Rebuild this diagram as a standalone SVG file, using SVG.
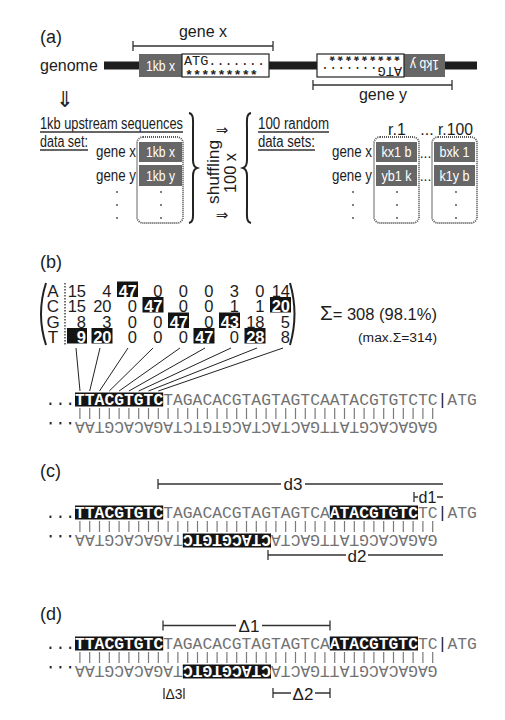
<svg xmlns="http://www.w3.org/2000/svg" xmlns:xlink="http://www.w3.org/1999/xlink" width="505" height="720" viewBox="0 0 505 720">
<style>
.s{font-family:"Liberation Sans",Arial,sans-serif;fill:#1c1c1c}
.ar{font-family:"DejaVu Sans",sans-serif;fill:#222}
.m{font-family:"Liberation Mono","Courier New",monospace;font-size:16.33px;fill:#727272}
.m2{font-family:"Liberation Mono","Courier New",monospace;font-size:13.5px;fill:#222}
.ast{font-family:"Liberation Mono","Courier New",monospace;font-size:13.5px;fill:#222;font-weight:bold}
.hl{fill:#fff;font-weight:bold}
.dk{fill:#222}
.bx{fill:#141414}
.gb{fill:#676767}
.wt{fill:#fff;font-size:14px;font-family:"Liberation Sans",Arial,sans-serif}
.ln{stroke:#333;stroke-width:1.3;fill:none}
.br{stroke:#222;stroke-width:2;fill:none}
.dot{fill:none;stroke:#555;stroke-width:1.8;stroke-dasharray:1 1}
.bars{stroke:#7a7a7a;stroke-width:1.2;fill:none}
.num{font-family:"Liberation Sans",Arial,sans-serif;font-size:16.5px;fill:#1c1c1c;text-anchor:end}
.numh{font-family:"Liberation Sans",Arial,sans-serif;font-size:16.5px;fill:#fff;font-weight:bold;text-anchor:end}
</style>
<defs>
<path id="bars" class="bars" d="M79.9 0v11m9.8-11v11m9.8-11v11m9.8-11v11m9.8-11v11m9.8-11v11m9.8-11v11m9.8-11v11m9.8-11v11m9.8-11v11m9.8-11v11m9.8-11v11m9.8-11v11m9.8-11v11m9.8-11v11m9.8-11v11m9.8-11v11m9.8-11v11m9.8-11v11m9.8-11v11m9.8-11v11m9.8-11v11m9.8-11v11m9.8-11v11m9.8-11v11m9.8-11v11m9.8-11v11m9.8-11v11m9.8-11v11m9.8-11v11m9.8-11v11m9.8-11v11m9.8-11v11m9.8-11v11m9.8-11v11m9.8-11v11m9.8-11v11"/>
</defs>

<!-- Panel (a) -->
<g id="panel-a-label"><text class="s" x="40" y="43" font-size="18">(a)</text></g>
<g id="genome">
<text class="s" x="40" y="71" font-size="16">genome</text>
<rect x="104" y="61.5" width="373" height="8" fill="#1e1e1e"/>
</g>
<g id="gene-x">
<text class="s" x="203" y="37" font-size="16" text-anchor="middle">gene x</text>
<path class="ln" d="M133 46H273M133 41V51M273 41V51"/>
<rect class="gb" x="139" y="54" width="43" height="23"/>
<text class="wt" x="160.5" y="71" text-anchor="middle" textLength="29" lengthAdjust="spacingAndGlyphs">1kb x</text>
<rect x="182" y="54" width="87" height="23" fill="#fff" stroke="#222" stroke-width="1.2"/>
<text class="m2" x="184" y="64.5">ATG.......</text>
<text class="ast" x="185" y="79">*********</text>
</g>
<g id="gene-y">
<g transform="rotate(180 381 65.5)">
<rect class="gb" x="317" y="54" width="41" height="23"/>
<text class="wt" x="337.5" y="71" text-anchor="middle" textLength="29" lengthAdjust="spacingAndGlyphs">1kb y</text>
<rect x="358" y="54" width="87" height="23" fill="#fff" stroke="#222" stroke-width="1.2"/>
<text class="m2" x="360" y="64.5">ATG.......</text>
<text class="ast" x="361" y="79">*********</text>
</g>
<path class="ln" d="M313 85H452M313 80V90M452 80V90"/>
<text class="s" x="383" y="100" font-size="16" text-anchor="middle">gene y</text>
</g>
<g id="arrow-down"><text class="ar" x="65" y="107" font-size="22" text-anchor="middle">⇓</text></g>

<g id="upstream-set">
<text class="s" x="40" y="129" font-size="16" textLength="143" lengthAdjust="spacingAndGlyphs">1kb upstream sequences</text>
<path class="ln" d="M40 132H183" stroke-width="1"/>
<text class="s" x="40" y="147" font-size="16" textLength="48" lengthAdjust="spacingAndGlyphs">data set:</text>
<path class="ln" d="M40 150H88" stroke-width="1"/>
<text class="s" x="96" y="157" font-size="16" textLength="40" lengthAdjust="spacingAndGlyphs">gene x</text>
<text class="s" x="96" y="181" font-size="16" textLength="40" lengthAdjust="spacingAndGlyphs">gene y</text>
<rect class="dot" x="137" y="137" width="46" height="86" rx="6"/>
<rect class="gb" x="139" y="142" width="43" height="20"/>
<text class="wt" x="160.5" y="157" text-anchor="middle" textLength="29" lengthAdjust="spacingAndGlyphs">1kb x</text>
<rect class="gb" x="139" y="165" width="43" height="21"/>
<text class="wt" x="160.5" y="181" text-anchor="middle" textLength="29" lengthAdjust="spacingAndGlyphs">1kb y</text>
<g fill="#444"><circle cx="117" cy="192" r="0.9"/><circle cx="117" cy="205" r="0.9"/><circle cx="117" cy="218" r="0.9"/><circle cx="161" cy="192" r="0.9"/><circle cx="161" cy="205" r="0.9"/><circle cx="161" cy="218" r="0.9"/></g>
</g>

<g id="shuffling">
<path class="br" d="M189 113C194 114 193 120 193 130L193 160C193 165 194 167 197 168C194 169 193 171 193 176L193 206C193 216 194 222 189 223"/>
<text class="ar" x="222" y="135" font-size="15" text-anchor="middle">⇒</text>
<text class="ar" x="222" y="220" font-size="15" text-anchor="middle">⇒</text>
<text class="s" transform="translate(219 172) rotate(-90)" font-size="17" text-anchor="middle" textLength="64" lengthAdjust="spacingAndGlyphs">shuffling</text>
<text class="s" transform="translate(236 173) rotate(-90)" font-size="16" text-anchor="middle" textLength="40" lengthAdjust="spacingAndGlyphs">100 x</text>
<path class="br" d="M251 113C246 114 247 120 247 130L247 160C247 165 246 167 243 168C246 169 247 171 247 176L247 206C247 216 246 222 251 223"/>
</g>

<g id="random-sets">
<text class="s" x="258" y="129" font-size="16" textLength="71" lengthAdjust="spacingAndGlyphs">100 random</text>
<path class="ln" d="M258 132H329" stroke-width="1"/>
<text class="s" x="258" y="147" font-size="16" textLength="57" lengthAdjust="spacingAndGlyphs">data sets:</text>
<path class="ln" d="M258 150H315" stroke-width="1"/>
<text class="s" x="397" y="135" font-size="16" text-anchor="middle">r.1</text>
<text class="s" x="427" y="135" font-size="16" text-anchor="middle">...</text>
<text class="s" x="438" y="135" font-size="16" textLength="35" lengthAdjust="spacingAndGlyphs">r.100</text>
<text class="s" x="332" y="157" font-size="16" textLength="40" lengthAdjust="spacingAndGlyphs">gene x</text>
<text class="s" x="332" y="181" font-size="16" textLength="40" lengthAdjust="spacingAndGlyphs">gene y</text>
<rect class="dot" x="374" y="137" width="45" height="86" rx="6"/>
<rect class="dot" x="432" y="137" width="45" height="86" rx="6"/>
<rect class="gb" x="376" y="142" width="41" height="20"/>
<text class="wt" x="396.5" y="157" text-anchor="middle" textLength="30" lengthAdjust="spacingAndGlyphs">kx1 b</text>
<rect class="gb" x="376" y="165" width="41" height="21"/>
<text class="wt" x="396.5" y="181" text-anchor="middle" textLength="30" lengthAdjust="spacingAndGlyphs">yb1 k</text>
<rect class="gb" x="434" y="142" width="41" height="20"/>
<text class="wt" x="454.5" y="157" text-anchor="middle" textLength="30" lengthAdjust="spacingAndGlyphs">bxk 1</text>
<rect class="gb" x="434" y="165" width="41" height="21"/>
<text class="wt" x="454.5" y="181" text-anchor="middle" textLength="30" lengthAdjust="spacingAndGlyphs">k1y b</text>
<text class="s" x="425.5" y="158" font-size="14" text-anchor="middle">...</text>
<text class="s" x="425.5" y="181" font-size="14" text-anchor="middle">...</text>
<g fill="#444"><circle cx="353" cy="192" r="0.9"/><circle cx="353" cy="205" r="0.9"/><circle cx="353" cy="218" r="0.9"/><circle cx="397" cy="192" r="0.9"/><circle cx="397" cy="205" r="0.9"/><circle cx="397" cy="218" r="0.9"/><circle cx="456" cy="192" r="0.9"/><circle cx="456" cy="205" r="0.9"/><circle cx="456" cy="218" r="0.9"/></g>
</g>

<!-- Panel (b) -->
<g id="panel-b-label"><text class="s" x="40" y="268" font-size="18">(b)</text></g>
<g id="matrix">
<path class="br" d="M46 283Q36 314 46 345"/>
<path class="br" d="M290 283Q299 314 290 345"/>
<g class="s" font-size="17" text-anchor="middle">
<text x="53" y="296.5">A</text><text x="53" y="312">C</text><text x="53" y="327.5">G</text><text x="53" y="343">T</text>
</g>
<path d="M65 283V345" stroke="#444" stroke-width="1.5" stroke-dasharray="1.5 1.5"/>
<g class="bx">
<rect x="117" y="281.5" width="21" height="15.5"/>
<rect x="142.5" y="297" width="21" height="15.5"/>
<rect x="270" y="297" width="21" height="15.5"/>
<rect x="168" y="312.5" width="21" height="15.5"/>
<rect x="219" y="312.5" width="21" height="15.5"/>
<rect x="67" y="328" width="20" height="15.5"/>
<rect x="91.5" y="328" width="21" height="15.5"/>
<rect x="193.5" y="328" width="21" height="15.5"/>
<rect x="244.5" y="328" width="21" height="15.5"/>
</g>
<text class="num" y="296.5"><tspan x="86">15</tspan><tspan x="111.5">4</tspan><tspan x="162.5">0</tspan><tspan x="188">0</tspan><tspan x="213.5">0</tspan><tspan x="239">3</tspan><tspan x="264.5">0</tspan><tspan x="290">14</tspan></text>
<text class="numh" y="296.5" x="137">47</text>
<text class="num" y="312"><tspan x="86">15</tspan><tspan x="111.5">20</tspan><tspan x="137">0</tspan><tspan x="188">0</tspan><tspan x="213.5">0</tspan><tspan x="239">1</tspan><tspan x="264.5">1</tspan></text>
<text class="numh" y="312"><tspan x="162.5">47</tspan><tspan x="290">20</tspan></text>
<text class="num" y="327.5"><tspan x="86">8</tspan><tspan x="111.5">3</tspan><tspan x="137">0</tspan><tspan x="162.5">0</tspan><tspan x="213.5">0</tspan><tspan x="264.5">18</tspan><tspan x="290">5</tspan></text>
<text class="numh" y="327.5"><tspan x="188">47</tspan><tspan x="239">43</tspan></text>
<text class="num" y="343"><tspan x="137">0</tspan><tspan x="162.5">0</tspan><tspan x="188">0</tspan><tspan x="239">0</tspan><tspan x="290">8</tspan></text>
<text class="numh" y="343"><tspan x="86">9</tspan><tspan x="111.5">20</tspan><tspan x="213.5">47</tspan><tspan x="264.5">28</tspan></text>
</g>
<g id="sum">
<text class="s" x="320" y="320" font-size="17" textLength="117" lengthAdjust="spacingAndGlyphs"><tspan font-size="21">Σ</tspan>= 308  (98.1%)</text>
<text class="s" x="358" y="342" font-size="12.5" textLength="79" lengthAdjust="spacingAndGlyphs">(max.Σ=314)</text>
</g>
<g id="connectors" stroke="#222" stroke-width="1" fill="none">
<path d="M76 348L80 391M100 348L89.7 391M128 348L99.5 391M153 348L109.3 391M180 348L119.1 391M205 348L128.9 391M231 348L138.7 391M257 348L148.5 391M283 348L158.3 391"/>
</g>
<g id="seq-b">
<rect class="bx" x="75" y="392.5" width="88.2" height="14"/>
<text class="m" x="45.6" y="405"><tspan class="dk">...</tspan><tspan class="hl">TTACGTGTC</tspan>TAGACACGTAGTAGTCAATACGTGTCTC<tspan class="dk">|</tspan>ATG</text>
<use xlink:href="#bars" y="408"/>
<text class="m" transform="translate(437.6 422) rotate(180)">GAGACACGTATTGACTACTACGTGTCTAGACACGTAA<tspan class="dk">...</tspan></text>
</g>

<!-- Panel (c) -->
<g id="panel-c-label"><text class="s" x="40" y="477" font-size="18">(c)</text></g>
<g id="d3">
<path class="ln" d="M158 484H281M305 484H443M158 479V489"/>
<text class="s" x="293" y="490" font-size="17" text-anchor="middle">d3</text>
</g>
<g id="d1">
<path class="ln" d="M414 497H418M414 492V502M437 497H443"/>
<text class="s" x="427.5" y="503" font-size="16" text-anchor="middle">d1</text>
</g>
<g id="seq-c">
<rect class="bx" x="75" y="505.5" width="88.2" height="14"/>
<rect class="bx" x="329.8" y="505.5" width="88.2" height="14"/>
<text class="m" x="45.6" y="518"><tspan class="dk">...</tspan><tspan class="hl">TTACGTGTC</tspan>TAGACACGTAGTAGTCA<tspan class="hl">ATACGTGTC</tspan>TC<tspan class="dk">|</tspan>ATG</text>
<use xlink:href="#bars" y="521"/>
<rect class="bx" x="182.8" y="533.5" width="88.2" height="14"/>
<text class="m" transform="translate(437.6 535) rotate(180)">GAGACACGTATTGACTA<tspan class="hl">CTACGTGTC</tspan>TAGACACGTAA<tspan class="dk">...</tspan></text>
</g>
<g id="d2">
<path class="ln" d="M268 555H346M368 555H443M268 550V560"/>
<text class="s" x="357" y="562" font-size="17" text-anchor="middle">d2</text>
</g>

<!-- Panel (d) -->
<g id="panel-d-label"><text class="s" x="40" y="620" font-size="18">(d)</text></g>
<g id="delta1">
<path class="ln" d="M163 625.5H236M262 625.5H330M163 620.5V630.5M330 620.5V630.5"/>
<text class="s" x="249" y="632" font-size="17" text-anchor="middle">Δ1</text>
</g>
<g id="seq-d">
<rect class="bx" x="75" y="636.5" width="88.2" height="14"/>
<rect class="bx" x="329.8" y="636.5" width="88.2" height="14"/>
<text class="m" x="45.6" y="649"><tspan class="dk">...</tspan><tspan class="hl">TTACGTGTC</tspan>TAGACACGTAGTAGTCA<tspan class="hl">ATACGTGTC</tspan>TC<tspan class="dk">|</tspan>ATG</text>
<use xlink:href="#bars" y="652"/>
<rect class="bx" x="182.8" y="664.5" width="88.2" height="14"/>
<text class="m" transform="translate(437.6 666) rotate(180)">GAGACACGTATTGACTA<tspan class="hl">CTACGTGTC</tspan>TAGACACGTAA<tspan class="dk">...</tspan></text>
</g>
<g id="delta3">
<path class="ln" d="M164 688V699M184 688V699"/>
<text class="s" x="174" y="699" font-size="15" text-anchor="middle" textLength="17" lengthAdjust="spacingAndGlyphs">Δ3</text>
</g>
<g id="delta2">
<path class="ln" d="M273 693H291M315 693H330M273 688V698M330 688V698"/>
<text class="s" x="303" y="700" font-size="17" text-anchor="middle">Δ2</text>
</g>
</svg>
